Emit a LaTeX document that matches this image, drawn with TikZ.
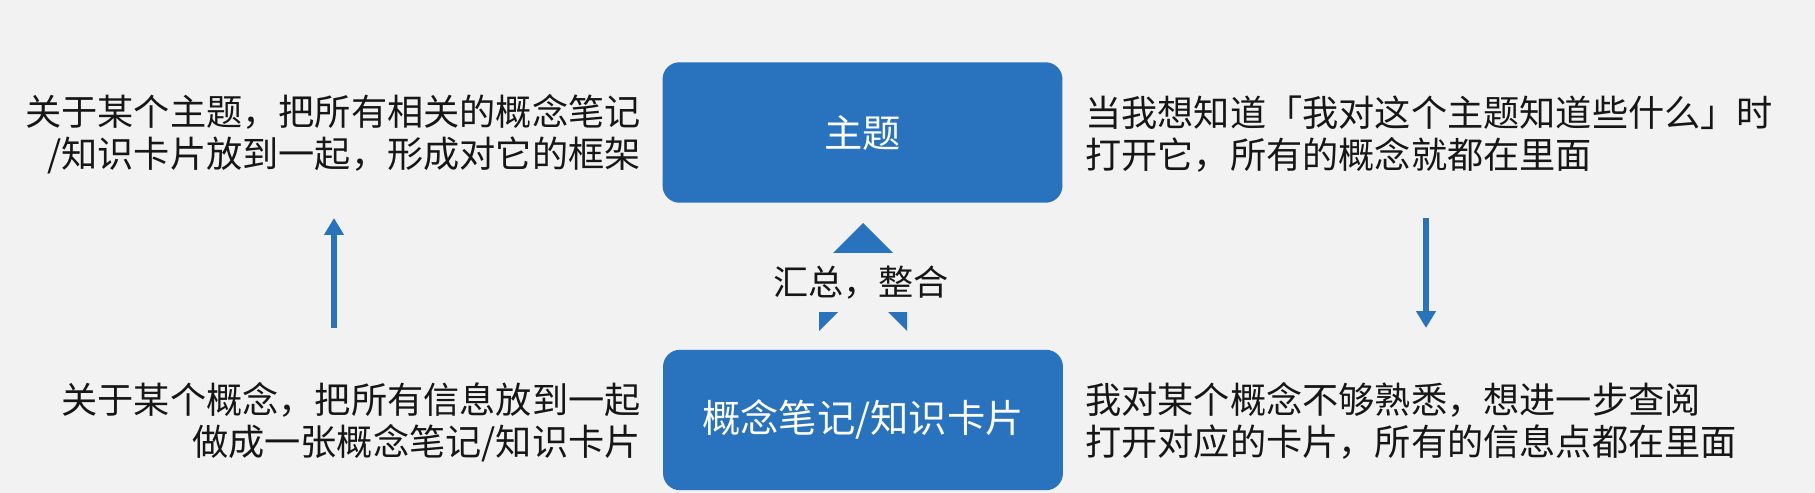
\documentclass[tikz,border=0pt]{standalone}
\usepackage{fontspec}
\setmainfont{Noto Sans CJK SC}
\usetikzlibrary{arrows.meta}
\definecolor{boxblue}{RGB}{41,114,190}
\definecolor{bggray}{RGB}{242,242,242}
\definecolor{inkblack}{RGB}{22,22,22}
\begin{document}
\begin{tikzpicture}[x=0.02cm,y=-0.02cm,line join=round,
	box/.style={fill=boxblue,text=white,rounded corners=0.34cm,minimum width=8cm,minimum height=2.81cm,
		font=\fontsize{21.8}{26}\selectfont},
	note/.style={inner sep=0pt,text=inkblack,font=\fontsize{20.6}{23.9}\selectfont},
	sidearrow/.style={boxblue,line width=2.9pt,-{Triangle[width=0.38cm,length=0.34cm]}}]
	\fill[bggray] (0,0) rectangle (1815,493);
	% the two boxes
	\node[box] (topic) at (862.5,132.5) {主题};
	\node[box] (card) at (863,420) {概念笔记/知识卡片};
	% chevron between them, partly hidden by its label
	\fill[boxblue] (863,223) -- (819,267) -- (819,331) -- (863,287) -- (907,331) -- (907,267) -- cycle;
	\node[fill=bggray,inner xsep=4pt,minimum height=1.18cm,font=\fontsize{20}{24}\selectfont,text=inkblack] (merge) at (861,282.5) {汇总，整合};
	% side notes
	\node[note,anchor=east,align=right] (topicwhy) at (641,134) {关于某个主题，把所有相关的概念笔记\\/知识卡片放到一起，形成对它的框架};
	\node[note,anchor=west,align=left] (topicuse) at (1085,134.5) {当我想知道「我对这个主题知道些什么」时\\打开它，所有的概念就都在里面};
	\node[note,anchor=east,align=right] (cardwhy) at (641,422.5) {关于某个概念，把所有信息放到一起\\做成一张概念笔记/知识卡片};
	\node[note,anchor=west,align=left] (carduse) at (1085,421) {我对某个概念不够熟悉，想进一步查阅\\打开对应的卡片，所有的信息点都在里面};
	% arrows
	\coordinate (upfrom) at (334,328);
	\coordinate (upto) at (334,218);
	\coordinate (downfrom) at (1426,218);
	\coordinate (downto) at (1426,328);
	\draw[sidearrow] (upfrom) -- (upto);
	\draw[sidearrow] (downfrom) -- (downto);
\end{tikzpicture}
\end{document}
